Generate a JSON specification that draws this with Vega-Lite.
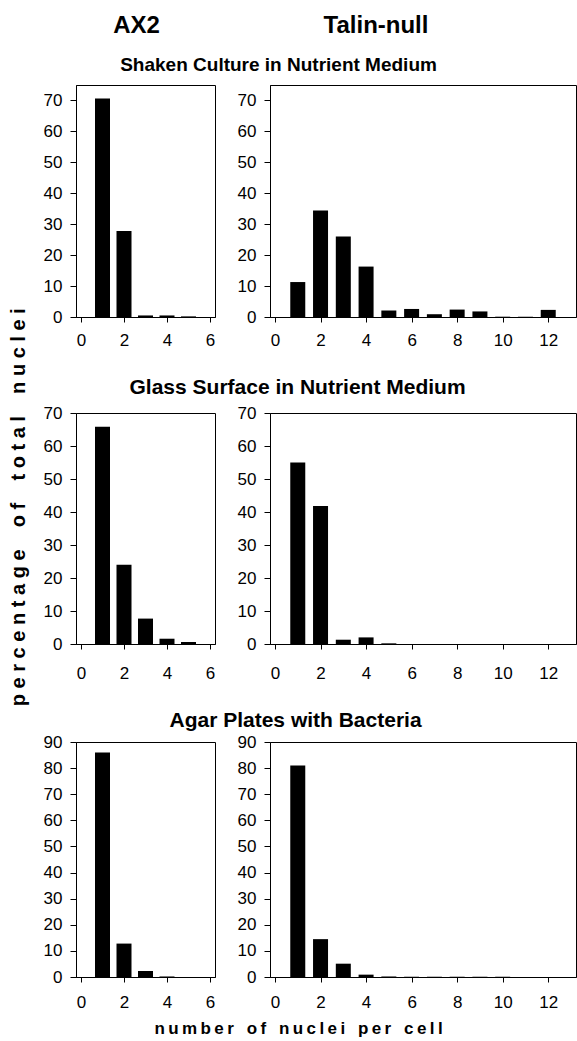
{
  "$schema": "https://vega.github.io/schema/vega-lite/v6.json",
  "padding": {"left": 8, "top": 14, "right": 1, "bottom": 0},
  "background": "white",
  "datasets": {
    "ax2_shaken": [{"n":1,"pct":70.6},{"n":2,"pct":27.8},{"n":3,"pct":0.5},{"n":4,"pct":0.5},{"n":5,"pct":0.2}],
    "talin_shaken": [{"n":1,"pct":11.3},{"n":2,"pct":34.4},{"n":3,"pct":26.0},{"n":4,"pct":16.3},{"n":5,"pct":2.1},{"n":6,"pct":2.6},{"n":7,"pct":0.9},{"n":8,"pct":2.4},{"n":9,"pct":1.8},{"n":10,"pct":0.1},{"n":11,"pct":0.1},{"n":12,"pct":2.3}],
    "ax2_glass": [{"n":1,"pct":65.8},{"n":2,"pct":24.0},{"n":3,"pct":7.7},{"n":4,"pct":1.6},{"n":5,"pct":0.6}],
    "talin_glass": [{"n":1,"pct":55.0},{"n":2,"pct":41.8},{"n":3,"pct":1.3},{"n":4,"pct":2.0},{"n":5,"pct":0.2}],
    "ax2_agar": [{"n":1,"pct":86.0},{"n":2,"pct":12.8},{"n":3,"pct":2.3},{"n":4,"pct":0.2}],
    "talin_agar": [{"n":1,"pct":81.0},{"n":2,"pct":14.5},{"n":3,"pct":5.1},{"n":4,"pct":0.9},{"n":5,"pct":0.2},{"n":6,"pct":0.1},{"n":7,"pct":0.1},{"n":8,"pct":0.1},{"n":9,"pct":0.1},{"n":10,"pct":0.1}],
    "empty": []
  },
  "config": {
    "font": "Liberation Sans",
    "view": {"stroke": "black", "strokeWidth": 1},
    "axis": {"grid": false, "domainColor": "black", "tickColor": "black", "labelColor": "black", "labelFontSize": 17, "labelFont": "Liberation Sans", "tickSize": 5},
    "axisY": {"labelPadding": 8, "tickSize": 6},
    "axisX": {"labelPadding": 12},
    "title": {"font": "Liberation Sans", "fontWeight": "bold", "color": "black"}
  },
  "title": {"text": "n\u2009u\u2009m\u2009b\u2009e\u2009r \u2009 o\u2009f \u2009 n\u2009u\u2009c\u2009l\u2009e\u2009i \u2009 p\u2009e\u2009r \u2009 c\u2009e\u2009l\u2009l", "orient": "bottom", "anchor": "middle", "fontSize": 17, "offset": 10, "dx": 6},
  "vconcat": [
    {
      "title": {"text": "p e r c e n t a g e \u00a0\u00a0 o f \u00a0\u00a0 t o t a l \u00a0\u00a0 n u c l e i", "orient": "left", "anchor": "middle", "fontSize": 20, "offset": 14, "dx": 5},
      "spacing": 27,
      "vconcat": [
        {
          "spacing": 16,
          "vconcat": [
            {
              "hconcat": [
                {"width": 139, "height": 1, "data": {"name": "empty"}, "mark": "point", "encoding": {}, "view": {"stroke": null}, "title": {"text": "AX2", "fontSize": 24, "anchor": "middle", "offset": 0, "dx": -9}},
                {"width": 306, "height": 1, "data": {"name": "empty"}, "mark": "point", "encoding": {}, "view": {"stroke": null}, "title": {"text": "Talin-null", "fontSize": 24, "anchor": "middle", "offset": 0, "dx": -47}}
              ],
              "spacing": 55,
              "bounds": "flush"
            },
            {
              "title": {"text": "Shaken Culture in Nutrient Medium", "fontSize": 19, "anchor": "middle", "offset": 10, "dx": -31},
              "hconcat": [
                {
                  "width": 139, "height": 232,
                  "data": {"name": "ax2_shaken"},
                  "mark": {"type": "bar", "color": "black", "size": 15, "orient": "vertical"},
                  "encoding": {
                    "x": {"field": "n", "type": "quantitative", "scale": {"domain": [0, 6], "nice": false}, "axis": {"values": [0, 2, 4, 6], "title": null, "labelPadding": 10}},
                    "y": {"field": "pct", "type": "quantitative", "scale": {"domain": [0, 75], "nice": false}, "axis": {"values": [0, 10, 20, 30, 40, 50, 60, 70], "title": null}}
                  }
                },
                {
                  "width": 306, "height": 232,
                  "data": {"name": "talin_shaken"},
                  "mark": {"type": "bar", "color": "black", "size": 15, "orient": "vertical"},
                  "encoding": {
                    "x": {"field": "n", "type": "quantitative", "scale": {"domain": [0, 13], "nice": false}, "axis": {"values": [0, 2, 4, 6, 8, 10, 12], "title": null, "labelPadding": 10}},
                    "y": {"field": "pct", "type": "quantitative", "scale": {"domain": [0, 75], "nice": false}, "axis": {"values": [0, 10, 20, 30, 40, 50, 60, 70], "title": null}}
                  }
                }
              ],
              "spacing": 55,
              "bounds": "flush"
            }
          ]
        },
        {
          "title": {"text": "Glass Surface in Nutrient Medium", "fontSize": 21, "anchor": "middle", "offset": 6, "dx": -12},
          "hconcat": [
            {
              "width": 139, "height": 231,
              "data": {"name": "ax2_glass"},
              "mark": {"type": "bar", "color": "black", "size": 15, "orient": "vertical"},
              "encoding": {
                "x": {"field": "n", "type": "quantitative", "scale": {"domain": [0, 6], "nice": false}, "axis": {"values": [0, 2, 4, 6], "title": null, "labelPadding": 16}},
                "y": {"field": "pct", "type": "quantitative", "scale": {"domain": [0, 70], "nice": false}, "axis": {"values": [0, 10, 20, 30, 40, 50, 60, 70], "title": null}}
              }
            },
            {
              "width": 306, "height": 231,
              "data": {"name": "talin_glass"},
              "mark": {"type": "bar", "color": "black", "size": 15, "orient": "vertical"},
              "encoding": {
                "x": {"field": "n", "type": "quantitative", "scale": {"domain": [0, 13], "nice": false}, "axis": {"values": [0, 2, 4, 6, 8, 10, 12], "title": null, "labelPadding": 16}},
                "y": {"field": "pct", "type": "quantitative", "scale": {"domain": [0, 70], "nice": false}, "axis": {"values": [0, 10, 20, 30, 40, 50, 60, 70], "title": null}}
              }
            }
          ],
          "spacing": 55,
          "bounds": "flush"
        },
        {
          "title": {"text": "Agar Plates with Bacteria", "fontSize": 21, "anchor": "middle", "offset": 2, "dx": -14},
          "hconcat": [
            {
              "width": 139, "height": 235,
              "data": {"name": "ax2_agar"},
              "mark": {"type": "bar", "color": "black", "size": 15, "orient": "vertical"},
              "encoding": {
                "x": {"field": "n", "type": "quantitative", "scale": {"domain": [0, 6], "nice": false}, "axis": {"values": [0, 2, 4, 6], "title": null, "labelPadding": 12}},
                "y": {"field": "pct", "type": "quantitative", "scale": {"domain": [0, 90], "nice": false}, "axis": {"values": [0, 10, 20, 30, 40, 50, 60, 70, 80, 90], "title": null}}
              }
            },
            {
              "width": 306, "height": 235,
              "data": {"name": "talin_agar"},
              "mark": {"type": "bar", "color": "black", "size": 15, "orient": "vertical"},
              "encoding": {
                "x": {"field": "n", "type": "quantitative", "scale": {"domain": [0, 13], "nice": false}, "axis": {"values": [0, 2, 4, 6, 8, 10, 12], "title": null, "labelPadding": 12}},
                "y": {"field": "pct", "type": "quantitative", "scale": {"domain": [0, 90], "nice": false}, "axis": {"values": [0, 10, 20, 30, 40, 50, 60, 70, 80, 90], "title": null}}
              }
            }
          ],
          "spacing": 55,
          "bounds": "flush"
        }
      ]
    }
  ]
}
